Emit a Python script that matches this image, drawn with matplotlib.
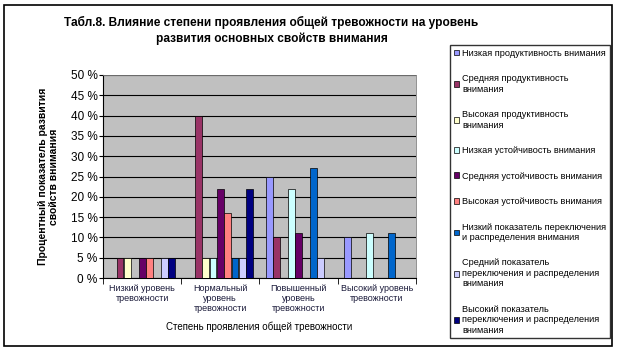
import matplotlib
matplotlib.use("Agg")
from matplotlib import pyplot as plt
from matplotlib.patches import Rectangle
import numpy as np

plt.rcParams['font.family'] = ['Liberation Sans', 'DejaVu Sans']

categories = ["Низкий уровень\nтревожности", "Нормальный\nуровень\nтревожности",
              "Повышенный\nуровень\nтревожности", "Высокий уровень\nтревожности"]

series_names = [
    "Низкая продуктивность внимания",
    "Средняя продуктивность\nвнимания",
    "Высокая продуктивность\nвнимания",
    "Низкая устойчивость внимания",
    "Средняя устойчивость внимания",
    "Высокая устойчивость внимания",
    "Низкий показатель переключения\nи распределения внимания",
    "Средний показатель\nпереключения и распределения\nвнимания",
    "Высокий показатель\nпереключения и распределения\nвнимания",
]

# percent values, one list per series (order of categories above)
low_prod = [0, 0, 25, 10]
mid_prod = [5, 40, 10, 0]
high_prod = [5, 5, 0, 0]
low_stab = [0, 5, 22, 11]
mid_stab = [5, 22, 11, 0]
high_stab = [5, 16, 0, 0]
low_switch = [0, 5, 27, 11]
mid_switch = [5, 5, 5, 0]
high_switch = [5, 22, 0, 0]

values = [low_prod, mid_prod, high_prod, low_stab, mid_stab, high_stab,
          low_switch, mid_switch, high_switch]
colors = ["#9999FF", "#993366", "#FFFFCC", "#CCFFFF", "#660066",
          "#FF8080", "#0066CC", "#CCCCFF", "#000080"]

fig = plt.figure(figsize=(6.17, 3.52), dpi=100)
fig.patches.append(Rectangle((0.006, 0.017), 0.986, 0.97, transform=fig.transFigure,
                             fill=False, edgecolor="black", linewidth=1.2))

ax = fig.add_axes([0.167, 0.21, 0.507, 0.577])
ax.set_facecolor("#C0C0C0")

x = np.arange(len(categories))
width = 0.094
for i, (vals, col) in enumerate(zip(values, colors)):
    ax.bar(x + (i - 4) * width, vals, width * 0.92, color=col, edgecolor="black",
           linewidth=0.5, label=series_names[i], zorder=3)

ax.set_xlim(-0.5, 3.5)
ax.set_ylim(0, 50)
ax.set_yticks(range(0, 51, 5))
ax.set_yticklabels([str(v) + " %" for v in range(0, 51, 5)], fontsize=8.5)
ax.set_xticks(x)
ax.set_xticklabels(categories, fontsize=6.5, color="#1a1a3a")
ax.set_xticks(np.arange(-0.5, 3.6, 1), minor=True)
ax.tick_params(axis="x", which="major", length=0, pad=4)
ax.tick_params(axis="x", which="minor", length=4)
ax.tick_params(axis="y", length=3, pad=1)
ax.yaxis.grid(True, color="black", linewidth=0.8, zorder=1)
ax.set_axisbelow(True)
for s in ["top", "right"]:
    ax.spines[s].set_color("#808080")
    ax.spines[s].set_linewidth(0.6)

ax.set_xlabel("Степень проявления общей тревожности", fontsize=7, labelpad=6)
ax.set_ylabel("Процентный показатель развития\nсвойств внимания", fontsize=7.5,
              fontweight="bold", labelpad=8)

fig.suptitle("Табл.8. Влияние степени проявления общей тревожности на уровень\n"
             "развития основных свойств внимания", x=0.44, y=0.955,
             fontsize=8.6, fontweight="bold", linespacing=1.35)

leg = fig.legend(loc="upper left", bbox_to_anchor=(0.722, 0.885), fontsize=6.6,
                 frameon=True, fancybox=False, edgecolor="black", labelspacing=1.8,
                 handlelength=0.6, handleheight=0.6, handletextpad=0.3,
                 borderpad=0.4)
leg.get_frame().set_linewidth(1)

fig.savefig("out.png", dpi=100)
